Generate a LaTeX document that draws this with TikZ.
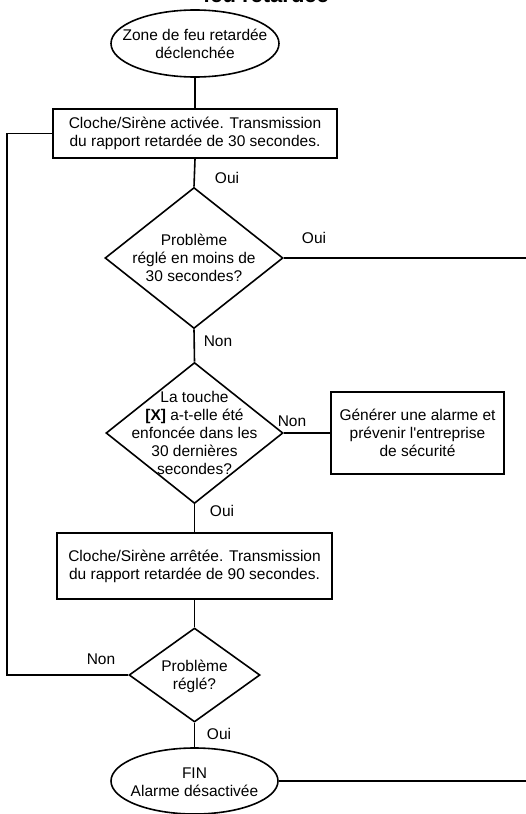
\documentclass[tikz,border=0pt]{standalone}
\usepackage{fontspec}
\setmainfont{Liberation Sans}
\usetikzlibrary{shapes.geometric}
\begin{document}
\begin{tikzpicture}[x=1pt,y=-1pt,
  every node/.style={font=\fontsize{15.5}{18}\selectfont, text=black},
  ln/.style={line width=1.6pt, draw=black},
  box/.style={ln, rectangle, inner sep=0pt, align=center},
  dia/.style={ln, diamond, inner sep=0pt},
  ell/.style={ln, ellipse, inner sep=0pt},
  txt/.style={align=center, inner sep=0pt},
  lab/.style={inner sep=0pt}]
\useasboundingbox (0,0) rectangle (526,814);
% title (cut off)
\node[anchor=base, font=\fontsize{22}{24}\selectfont\bfseries, inner sep=0pt] (title) at (266,2) {feu retardée};
% start
\node[ell, minimum width=168pt, minimum height=67pt] (start) at (195,43.5) {};
\node[txt] (starttxt) at (start) {Zone de feu retardée\\déclenchée};
% box1
\node[box, minimum width=284pt, minimum height=49pt] (b1) at (195,133.5) {Cloche/Sirène activée. Transmission\\du rapport retardée de 30 secondes.};
% diamond1
\node[dia, minimum width=178pt, minimum height=141pt] (d1) at (194,258) {};
\node[txt] (d1txt) at (194,258) {Problème\\réglé en moins de\\30 secondes?};
% diamond2
\node[dia, minimum width=177pt, minimum height=141pt] (d2) at (194.5,433) {};
\node[txt] (d2txt) at (194.5,433) {La touche\\\textbf{[X]} a-t-elle été\\enfoncée dans les\\30 dernières\\secondes?};
% alarm box
\node[box, minimum width=173pt, minimum height=82pt] (alarm) at (417.5,433) {Générer une alarme et\\prévenir l\textquotesingle entreprise\\de sécurité};
% box2
\node[box, minimum width=275pt, minimum height=66pt] (b2) at (194.5,566) {Cloche/Sirène arrêtée. Transmission\\du rapport retardée de 90 secondes.};
% diamond3
\node[dia, minimum width=131pt, minimum height=94pt] (d3) at (194.5,675) {};
\node[txt] (d3txt) at (194.5,676.5) {Problème\\réglé?};
% end
\node[ell, minimum width=167pt, minimum height=66pt] (fin) at (194.5,781) {};
\node[txt] (fintxt) at (194.5,782.5) {FIN\\Alarme désactivée};
% coordinates
\coordinate (lt) at (7,133.5);
\coordinate (lb) at (7,675);
\coordinate (r1) at (526,258);
\coordinate (r2) at (526,781);
% connectors
\draw[ln] (start.south) -- (b1.north);
\draw[ln] (b1.south) -- (d1.north);
\draw[ln] (d1.east) -- (r1);
\draw[ln] (d1.south) -- (d2.north);
\draw[ln] (d2.east) -- (alarm.west);
\draw[ln] (d2.south) -- (b2.north);
\draw[ln] (b2.south) -- (d3.north);
\draw[ln] (d3.south) -- (fin.north);
\draw[ln] (fin.east) -- (r2);
\draw[ln] (d3.west) -- (lb) -- (lt) -- (b1.west);
% labels
\node[lab] (l1) at (227,178) {Oui};
\node[lab] (l2) at (314,238) {Oui};
\node[lab] (l3) at (218,341) {Non};
\node[lab] (l4) at (292,421) {Non};
\node[lab] (l5) at (222,511) {Oui};
\node[lab] (l6) at (101,659) {Non};
\node[lab] (l7) at (219,734) {Oui};
\end{tikzpicture}
\end{document}
